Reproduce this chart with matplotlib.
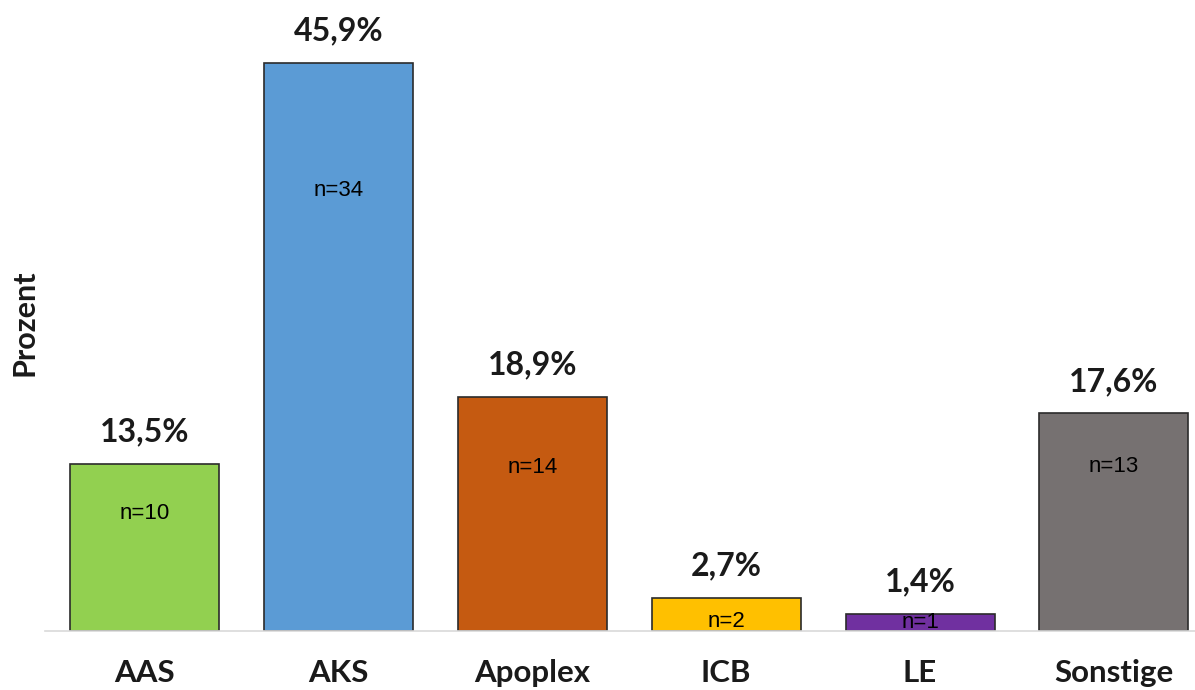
import matplotlib
import matplotlib.pyplot as plt

matplotlib.use("Agg")

CATEGORIES = ["AAS", "AKS", "Apoplex", "ICB", "LE", "Sonstige"]
PERCENT = [13.5, 45.9, 18.9, 2.7, 1.4, 17.6]
COUNTS = [10, 34, 14, 2, 1, 13]
# height (in %) where the n= label sits inside each bar
COUNT_LABEL_Y = [9.5, 35.6, 13.2, 0.8, 0.7, 13.3]
COLORS = ["#92D050", "#5B9BD5", "#C55A11", "#FFC000", "#7030A0", "#767171"]

fig = plt.figure(figsize=(11.95, 6.9), dpi=100)
ax = fig.add_axes([45 / 1195, 59 / 690, 1150 / 1195, 618.5 / 690])

x = range(len(CATEGORIES))
ax.bar(x, PERCENT, width=0.768, color=COLORS, edgecolor="#2b2b2b", linewidth=1.2, zorder=2)

for i, (p, n, ny) in enumerate(zip(PERCENT, COUNTS, COUNT_LABEL_Y)):
    ax.annotate(f"{p:.1f}%".replace(".", ","), (i, p), xytext=(0, 23), textcoords="offset points",
                ha="center", va="center", fontsize=23, fontweight="bold", family="Lato", color="#1a1a1a")
    ax.text(i, ny, f"n={n}", ha="center", va="center", fontsize=16,
            family="Liberation Sans", color="black", zorder=3)

ax.set_xlim(-0.513, 5.418)
ax.set_ylim(0, 50)
ax.set_xticks(list(x))
ax.set_xticklabels(CATEGORIES, fontsize=22.5, fontweight="bold", family="Lato", color="#1a1a1a")
ax.tick_params(axis="x", length=0, pad=20)
ax.set_yticks([])

for side in ["top", "right", "left"]:
    ax.spines[side].set_visible(False)
ax.spines["bottom"].set_color("#d9d9d9")
ax.spines["bottom"].set_linewidth(1.2)

fig.text(25 / 1195, 1 - 323 / 690, "Prozent", rotation=90, ha="center", va="center",
         fontsize=22, fontweight="bold", family="Lato", color="#1a1a1a")

fig.savefig("out.png", dpi=100)
